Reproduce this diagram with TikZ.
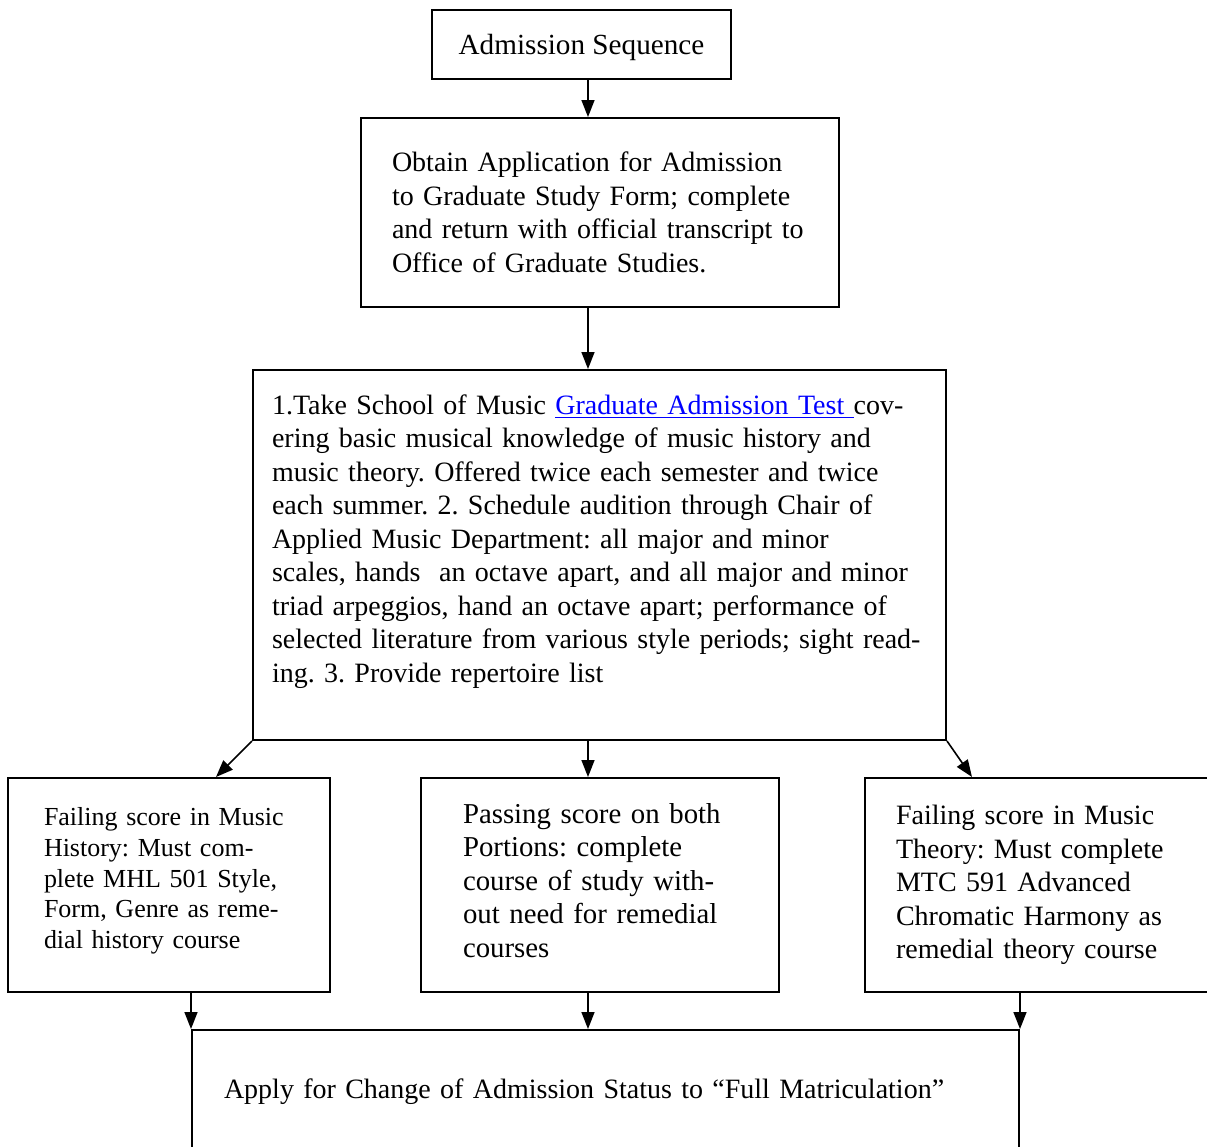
\documentclass[tikz,border=0pt]{standalone}
\usepackage{fontspec}
\setmainfont{Liberation Serif}
\usetikzlibrary{arrows.meta}
\definecolor{linkblue}{RGB}{0,0,255}
\frenchspacing
\begin{document}
\begin{tikzpicture}[x=0.5pt,y=-0.5pt,
  box/.style={draw,line width=1pt,align=left,inner ysep=0pt,font=\fontsize{14}{16.75}\selectfont},
  arr/.style={-{Triangle[length=8.5pt,width=6.5pt]},line width=0.8pt}]
\clip (0,0) rectangle (1207,1147);
\node[box,align=center,minimum width=149.5pt,minimum height=34.5pt,font=\fontsize{14.6}{16.75}\selectfont] (seq) at (581.5,44.5) {\raisebox{-1.5pt}[\height][\depth]{Admission Sequence}};
\node[box,text width=208pt,inner xsep=15.5pt,minimum height=94.5pt] (obtain) at (600,212.5)
  {Obtain Application for Admission\\ to Graduate Study Form; complete\\ and return with official transcript to\\ Office of Graduate Studies.};
\node[box,text width=327.5pt,inner xsep=9.5pt,minimum height=185pt] (test) at (599.5,555)
  {1.Take School of Music \textcolor{linkblue}{\underline{Graduate Admission Test\ }}cov-\\
   ering basic musical knowledge of music history and\\
   music theory. Offered twice each semester and twice\\
   each summer. 2. Schedule audition through Chair of\\
   Applied Music Department: all major and minor\\
   scales, hands\ \ an octave apart, and all major and minor\\
   triad arpeggios, hand an octave apart; performance of\\
   selected literature from various style periods; sight read-\\
   ing. 3. Provide repertoire list\\ \mbox{}};
\node[box,text width=125pt,inner xsep=18pt,minimum height=107pt,font=\fontsize{13}{15.4}\selectfont] (hist) at (169,885)
  {Failing score in Music\\ History: Must com-\\ plete MHL 501 Style,\\ Form, Genre as reme-\\ dial history course\\[-8.4pt]\mbox{}};
\node[box,text width=137pt,inner xsep=21pt,minimum height=107pt,font=\fontsize{14.4}{16.75}\selectfont] (pass) at (600,885)
  {Passing score on both\\ Portions: complete\\ course of study with-\\ out need for remedial\\ courses\\[-11.75pt]\mbox{}};
\node[box,text width=144pt,inner xsep=15.5pt,minimum height=107pt] (theo) at (1040,885)
  {Failing score in Music\\ Theory: Must complete\\ MTC 591 Advanced\\ Chromatic Harmony as\\ remedial theory course};
\node[box,text width=381.5pt,inner xsep=16pt,minimum height=70pt] (apply) at (605.5,1100)
  {Apply for Change of Admission Status to “Full Matriculation”\\[-5pt] \mbox{}};
\coordinate (axis) at (588,0);
\draw[arr] (seq.south -| axis) -- (obtain.north -| axis);
\draw[arr] (obtain.south -| axis) -- (test.north -| axis);
\draw[arr] (test.south -| axis) -- (pass.north -| axis);
\draw[arr] (test.south west) -- ([xshift=23.5pt]hist.north);
\draw[arr] (test.south east) -- ([xshift=-34pt]theo.north);
\draw[arr] (hist.south -| apply.west) -- (apply.north west);
\draw[arr] (pass.south -| axis) -- (apply.north -| axis);
\draw[arr] (theo.south -| apply.east) -- (apply.north east);
\end{tikzpicture}
\end{document}
